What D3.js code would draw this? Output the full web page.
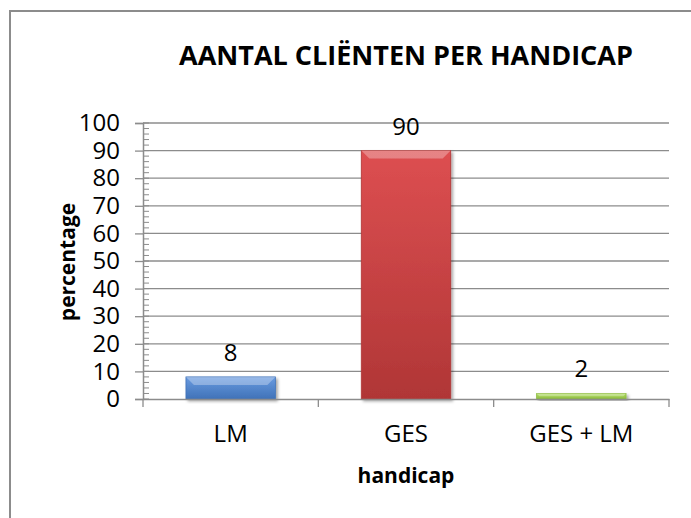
<!DOCTYPE html>
<html>
<head>
<meta charset="utf-8">
<script src="https://cdn.jsdelivr.net/npm/d3@7"></script>
<style>
  body { margin: 0; background: #fff; }
  text { font-family: "Open Sans", "Noto Sans", sans-serif; }
</style>
</head>
<body>
<script>
// data
var categories = ["LM", "GES", "GES + LM"];
var values = [8, 90, 2];
var barColors = [["#6a9be0", "#3f72b8"], ["#dd4f51", "#b03636"], ["#b2de66", "#8dbb3e"]];
var yTicks = [0, 10, 20, 30, 40, 50, 60, 70, 80, 90, 100];

var W = 691, H = 518;
var plotLeft = 143, plotRight = 669, plotTop = 123, plotBottom = 399;

var svg = d3.select("body").append("svg")
    .attr("width", W)
    .attr("height", H);

var defs = svg.append("defs");
barColors.forEach(function(c, i) {
  var g = defs.append("linearGradient")
      .attr("id", "grad" + i)
      .attr("x1", 0).attr("y1", 0).attr("x2", 0).attr("y2", 1);
  g.append("stop").attr("offset", "0%").attr("stop-color", c[0]);
  g.append("stop").attr("offset", "100%").attr("stop-color", c[1]);
});
var shadow = defs.append("filter").attr("id", "shadow")
    .attr("x", "-10%").attr("y", "-10%").attr("width", "130%").attr("height", "130%");
shadow.append("feDropShadow")
    .attr("dx", 2).attr("dy", 2).attr("stdDeviation", 1.5)
    .attr("flood-color", "#000").attr("flood-opacity", 0.35);

// outer frame
svg.append("rect")
  .attr("x", 10).attr("y", 11)
  .attr("width", W + 20).attr("height", H + 20)
  .attr("fill", "none")
  .attr("stroke", "#8c8c8c")
  .attr("stroke-width", 2);

var x = d3.scaleBand()
    .domain(categories)
    .range([plotLeft, plotRight])
    .paddingInner(0.49)
    .paddingOuter(0.245);

var y = d3.scaleLinear()
    .domain([0, 100])
    .range([plotBottom, plotTop]);

// gridlines
svg.append("g")
  .selectAll("line")
  .data(yTicks.slice(1))
  .enter().append("line")
  .attr("x1", plotLeft).attr("x2", plotRight)
  .attr("y1", function(d) { return y(d); })
  .attr("y2", function(d) { return y(d); })
  .attr("stroke", "#8c8c8c")
  .attr("stroke-width", 1.3);

// minor ticks on y axis
svg.append("g")
  .selectAll("line")
  .data(d3.range(0, 101, 2))
  .enter().append("line")
  .attr("x1", plotLeft).attr("x2", plotLeft + 6)
  .attr("y1", function(d) { return y(d); })
  .attr("y2", function(d) { return y(d); })
  .attr("stroke", "#8c8c8c")
  .attr("stroke-width", 1);

// y axis
var yaxis = d3.axisLeft(y)
    .tickValues(yTicks)
    .tickSize(8)
    .tickPadding(15);

var gy = svg.append("g")
  .attr("transform", "translate(" + plotLeft + ",0)")
  .call(yaxis);
gy.select(".domain").attr("stroke", "#8c8c8c").attr("stroke-width", 1.5);
gy.selectAll(".tick line").attr("stroke", "#8c8c8c").attr("stroke-width", 1.3);
gy.selectAll(".tick text")
  .attr("fill", "#000")
  .style("font-size", "24px")
  .style("font-family", "'Open Sans', sans-serif");

// bars
var bars = svg.append("g");
bars.selectAll("rect")
  .data(values)
  .enter().append("rect")
  .attr("x", function(d, i) { return x(categories[i]); })
  .attr("y", function(d) { return y(d); })
  .attr("width", x.bandwidth())
  .attr("height", function(d) { return plotBottom - y(d); })
  .attr("fill", function(d, i) { return "url(#grad" + i + ")"; })
  .attr("stroke", function(d, i) { return barColors[i][1]; })
  .attr("stroke-width", 0.8)
  .attr("filter", "url(#shadow)");

// bevel highlight along the top edge
bars.selectAll("path")
  .data(values)
  .enter().append("path")
  .attr("d", function(d, i) {
    var x0 = x(categories[i]), x1 = x0 + x.bandwidth();
    var y0 = y(d), h = Math.min(8, (plotBottom - y(d)) / 2);
    return "M" + x0 + "," + y0 + "L" + x1 + "," + y0 +
      "L" + (x1 - h) + "," + (y0 + h) + "L" + (x0 + h) + "," + (y0 + h) + "Z";
  })
  .attr("fill", "#fff")
  .attr("opacity", 0.3);

// value labels
svg.append("g")
  .selectAll("text")
  .data(values)
  .enter().append("text")
  .attr("x", function(d, i) { return x(categories[i]) + x.bandwidth() / 2; })
  .attr("y", function(d) { return y(d) - 16; })
  .attr("text-anchor", "middle")
  .style("font-size", "24px")
  .text(function(d) { return d; });

// x axis
var xaxis = d3.axisBottom(x).tickSize(0).tickPadding(26);
var gx = svg.append("g")
  .attr("transform", "translate(0," + plotBottom + ")")
  .call(xaxis);
gx.select(".domain").attr("stroke", "#8c8c8c").attr("stroke-width", 1.5);
gx.selectAll(".tick text")
  .attr("fill", "#000")
  .style("font-size", "24px")
  .style("font-family", "'Open Sans', sans-serif");

// category boundary ticks
svg.append("g")
  .selectAll("line")
  .data(d3.range(categories.length + 1))
  .enter().append("line")
  .attr("x1", function(i) { return plotLeft + i * x.step(); })
  .attr("x2", function(i) { return plotLeft + i * x.step(); })
  .attr("y1", plotBottom).attr("y2", plotBottom + 8)
  .attr("stroke", "#8c8c8c")
  .attr("stroke-width", 1.3);

// title
svg.append("text")
  .attr("x", 406)
  .attr("y", 65)
  .attr("text-anchor", "middle")
  .style("font-size", "27px")
  .style("font-weight", "bold")
  .text("AANTAL CLIËNTEN PER HANDICAP");

// axis titles
svg.append("text")
  .attr("x", 406)
  .attr("y", 483)
  .attr("text-anchor", "middle")
  .style("font-size", "21px")
  .style("font-weight", "bold")
  .text("handicap");

svg.append("text")
  .attr("transform", "translate(75,262) rotate(-90)")
  .attr("text-anchor", "middle")
  .style("font-size", "21px")
  .style("font-weight", "bold")
  .text("percentage");
</script>
</body>
</html>
